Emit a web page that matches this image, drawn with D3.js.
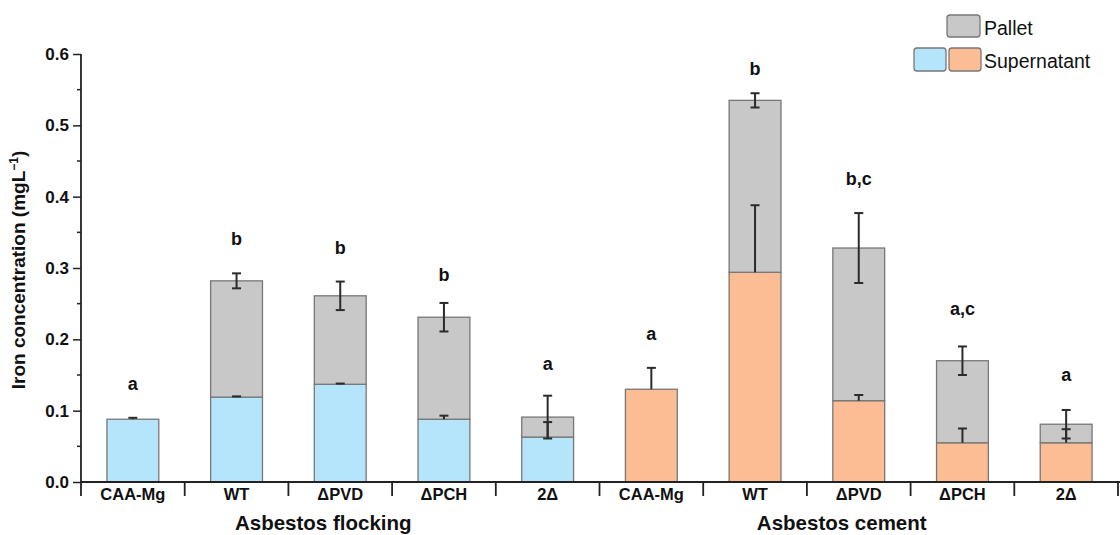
<!DOCTYPE html>
<html><head><meta charset="utf-8">
<script src="https://cdn.jsdelivr.net/npm/d3@7"></script>
<style>body{margin:0;background:#fff}svg{display:block}text{font-family:"Liberation Sans",Arial,sans-serif}</style>
</head><body>
<svg id="c" width="1120" height="535"></svg>
<script>
const categories = ["CAA-Mg","WT","\u0394PVD","\u0394PCH","2\u0394","CAA-Mg","WT","\u0394PVD","\u0394PCH","2\u0394"];
const groupNames = ["Asbestos flocking","Asbestos cement"];
const groupOf = [0,0,0,0,0,1,1,1,1,1];
const supernatant = [0.088,0.119,0.137,0.088,0.063,0.130,0.294,0.114,0.055,0.055];
const pallet = [0,0.163,0.124,0.143,0.028,0,0.241,0.214,0.115,0.026];
const supernatantErr = [0.002,0.001,0.001,0.005,0.021,0.030,0.094,0.008,0.020,0.019];
const palletErr = [0,0.0105,0.020,0.020,0.030,0,0.010,0.049,0.020,0.020];
const letters = ["a","b","b","b","a","a","b","b,c","a,c","a"];
const yTicks = [0,0.1,0.2,0.3,0.4,0.5,0.6];

const svg = d3.select("#c");
const x = d3.scaleBand().domain(d3.range(categories.length)).range([81,1118]).paddingInner(0.5).paddingOuter(0.25);
const y = d3.scaleLinear().domain([0,0.6]).range([482,54]);
const supColors = ["#b4e5fb","#fdbd94"];
const grey = "#c8c8c8", edge = "#777";
const letterGap = [34,34,34,28,32,34,24,34,37,35];

// bars
const g = svg.append("g");
categories.forEach((c,i)=>{
  const s = supernatant[i], p = pallet[i];
  g.append("rect").attr("x",x(i)).attr("width",x.bandwidth())
    .attr("y",y(s)).attr("height",y(0)-y(s))
    .attr("fill",supColors[groupOf[i]]).attr("stroke",edge).attr("stroke-width",1.3);
  if(p>0){
    g.append("rect").attr("x",x(i)).attr("width",x.bandwidth())
      .attr("y",y(s+p)).attr("height",y(s)-y(s+p))
      .attr("fill",grey).attr("stroke",edge).attr("stroke-width",1.3);
  }
});
// error bars
const eb = svg.append("g").attr("stroke","#2b2b2b").attr("stroke-width",2);
const cap = 4.5;
categories.forEach((c,i)=>{
  const cx = x(i)+x.bandwidth()/2;
  const s = supernatant[i];
  const se = supernatantErr[i];
  eb.append("line").attr("x1",cx).attr("x2",cx).attr("y1",y(s)).attr("y2",y(s+se));
  eb.append("line").attr("x1",cx-cap).attr("x2",cx+cap).attr("y1",y(s+se)).attr("y2",y(s+se));
  if(pallet[i]>0){
    const t = s+pallet[i], e = palletErr[i];
    eb.append("line").attr("x1",cx).attr("x2",cx).attr("y1",y(t-e)).attr("y2",y(t+e));
    eb.append("line").attr("x1",cx-cap).attr("x2",cx+cap).attr("y1",y(t+e)).attr("y2",y(t+e));
    eb.append("line").attr("x1",cx-cap).attr("x2",cx+cap).attr("y1",y(t-e)).attr("y2",y(t-e));
  }
});
// letters
categories.forEach((c,i)=>{
  const top = Math.max(supernatant[i]+supernatantErr[i], supernatant[i]+pallet[i]+palletErr[i]);
  svg.append("text").attr("x",x(i)+x.bandwidth()/2).attr("y",y(top)-letterGap[i])
    .attr("text-anchor","middle").attr("dominant-baseline","central")
    .attr("font-size",18).attr("font-weight","bold").attr("fill","#111").text(letters[i]);
});

// y axis
const yAxis = d3.axisLeft(y).tickValues(yTicks).tickFormat(d3.format(".1f")).tickSize(8).tickPadding(4);
const ya = svg.append("g").attr("transform","translate(81,0)").call(yAxis);
ya.select(".domain").remove();
ya.selectAll("text").attr("font-size",17).attr("font-weight","bold").attr("fill","#111").style("font-family","Liberation Sans, Arial, sans-serif");
ya.selectAll("line").attr("stroke","#222").attr("stroke-width",1.5);
const minor = d3.range(0.05,0.6,0.1);
svg.append("g").selectAll("line").data(minor).join("line")
  .attr("x1",77).attr("x2",81).attr("y1",d=>y(d)).attr("y2",d=>y(d)).attr("stroke","#222").attr("stroke-width",1.5);
svg.append("line").attr("x1",81).attr("x2",81).attr("y1",y(0.6)).attr("y2",496).attr("stroke","#222").attr("stroke-width",1.8);

// x axis
svg.append("line").attr("x1",80).attr("x2",1120).attr("y1",y(0)).attr("y2",y(0)).attr("stroke","#222").attr("stroke-width",1.8);
const bounds = d3.range(categories.length+1).map(i=> i<categories.length ? x(i)-x.step()*x.paddingInner()/2 : x(i-1)+x.bandwidth()+x.step()*x.paddingInner()/2);
svg.append("g").selectAll("line").data(bounds.slice(1)).join("line")
  .attr("x1",d=>d).attr("x2",d=>d).attr("y1",y(0)).attr("y2",496).attr("stroke","#222").attr("stroke-width",1.8);
svg.append("g").selectAll("text").data(categories).join("text")
  .attr("x",(d,i)=>x(i)+x.bandwidth()/2).attr("y",500).attr("text-anchor","middle")
  .attr("font-size",16.5).attr("font-weight","bold").attr("fill","#111").text(d=>d);
groupNames.forEach((n,k)=>{
  const idx = d3.range(categories.length).filter(i=>groupOf[i]===k);
  const cx = (x(idx[0]) + x(idx[idx.length-1])+x.bandwidth())/2 - 17;
  svg.append("text").attr("x",cx).attr("y",530).attr("text-anchor","middle")
    .attr("font-size",20.5).attr("font-weight","bold").attr("fill","#111").text(n);
});
// y title
svg.append("text").attr("transform","translate(25,"+(y(0.3)+2)+") rotate(-90)").attr("text-anchor","middle")
  .attr("font-size",19).attr("font-weight","bold").attr("fill","#111")
  .html('Iron concentration (mgL<tspan dy="-7" font-size="12">\u22121</tspan><tspan dy="7">)</tspan>');

// legend
const lg = svg.append("g");
lg.append("rect").attr("x",947).attr("y",15).attr("width",33).attr("height",22).attr("rx",3).attr("fill",grey).attr("stroke",edge).attr("stroke-width",1.3);
lg.append("rect").attr("x",914).attr("y",48).attr("width",32).attr("height",23).attr("rx",3).attr("fill",supColors[0]).attr("stroke",edge).attr("stroke-width",1.3);
lg.append("rect").attr("x",949).attr("y",48).attr("width",32).attr("height",23).attr("rx",3).attr("fill",supColors[1]).attr("stroke",edge).attr("stroke-width",1.3);
lg.append("text").attr("x",984).attr("y",35).attr("font-size",19.5).attr("fill","#111").text("Pallet");
lg.append("text").attr("x",984).attr("y",68).attr("font-size",19.5).attr("fill","#111").text("Supernatant");
</script>
</body></html>
